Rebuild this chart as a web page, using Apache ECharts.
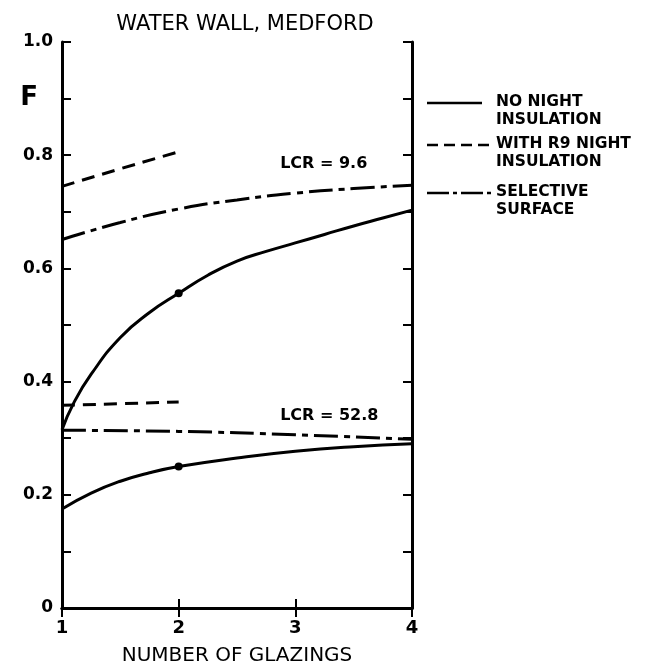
<!DOCTYPE html>
<html>
<head>
<meta charset="utf-8">
<script src="https://cdn.jsdelivr.net/npm/echarts@6/dist/echarts.min.js"></script>
<style>
  html, body { margin: 0; padding: 0; background: #fff; }
  #chart { width: 650px; height: 671px; }
</style>
</head>
<body>
<div id="chart"></div>
<script>
// Solar fraction F versus number of glazings, water wall in Medford
const glazingTicks = [1, 2, 3, 4];
const yTickLabels = { '0': '0', '0.2': '0.2', '0.4': '0.4', '0.6': '0.6', '0.8': '0.8', '0.9': 'F', '1': '1.0' };

// LCR = 9.6
const noNight96 = [[1, 0.315], [1.1, 0.362], [1.25, 0.413], [1.5, 0.478], [1.75, 0.522], [2, 0.556], [2.25, 0.588], [2.5, 0.613], [2.75, 0.63], [3, 0.645], [3.25, 0.66], [3.5, 0.675], [3.75, 0.689], [4, 0.703]];
const withR9_96 = [[1, 0.745], [1.5, 0.776], [2, 0.806]];
const selective96 = [[1, 0.651], [1.5, 0.681], [2, 0.705], [2.5, 0.721], [3, 0.733], [3.5, 0.741], [4, 0.747]];

// LCR = 52.8
const noNight528 = [[1, 0.175], [1.25, 0.203], [1.5, 0.224], [1.75, 0.239], [2, 0.25], [2.5, 0.265], [3, 0.277], [3.5, 0.285], [4, 0.29]];
const withR9_528 = [[1, 0.358], [2, 0.364]];
const selective528 = [[1, 0.314], [2, 0.312], [3, 0.306], [4, 0.298]];

const markedPoints = [[2, 0.556], [2, 0.25]];
const lcrLabels = [
  { text: 'LCR = 9.6', x: 2.87, y: 0.785 },
  { text: 'LCR = 52.8', x: 2.87, y: 0.340 }
];

const legendItems = [
  { lines: ['NO NIGHT', 'INSULATION'], dash: null, len: 55 },
  { lines: ['WITH R9 NIGHT', 'INSULATION'], dash: [11, 6], len: 63 },
  { lines: ['SELECTIVE', 'SURFACE'], dash: [22, 4, 4, 4], len: 66 }
];

const FONT = '"DejaVu Sans", "Liberation Sans", sans-serif';
const INK = '#000';
const DASH_R9 = [13, 8];
const DASH_SEL = [24, 6, 6, 6];

const chart = echarts.init(document.getElementById('chart'), null, { renderer: 'canvas' });

function curve(data, dash) {
  return {
    type: 'line',
    data: data,
    smooth: 0.5,
    showSymbol: false,
    symbol: 'none',
    silent: true,
    lineStyle: { color: INK, width: 3, type: dash || 'solid', cap: 'butt' },
    z: 3
  };
}

// Legend block drawn beside the plot
const legendGraphics = [];
const legendTop = [103, 145, 193];
legendItems.forEach((item, i) => {
  const y = legendTop[i];
  legendGraphics.push({
    type: 'line',
    shape: { x1: 427, y1: y, x2: 427 + item.len, y2: y },
    style: { stroke: INK, lineWidth: 2.6, lineDash: item.dash || null }
  });
  legendGraphics.push({
    type: 'text',
    x: 496,
    y: y - 10,
    style: {
      text: item.lines.join('\n'),
      font: 'bold 15.5px ' + FONT,
      fill: INK,
      lineHeight: 18,
      textVerticalAlign: 'top'
    }
  });
});

const option = {
  backgroundColor: '#fff',
  animation: false,
  title: {
    text: 'WATER WALL, MEDFORD',
    left: 240,
    textAlign: 'center',
    top: 9,
    textStyle: { fontFamily: FONT, fontSize: 21, fontWeight: 'normal', color: INK }
  },
  grid: { left: 62, right: 238, top: 42, bottom: 57 },
  xAxis: [
    {
      type: 'value', min: 1, max: 4, interval: 1, position: 'bottom',
      name: 'NUMBER OF GLAZINGS', nameLocation: 'middle', nameGap: 38,
      nameTextStyle: { fontFamily: FONT, fontSize: 20, color: INK },
      axisLine: { show: true, lineStyle: { color: INK, width: 3 } },
      axisTick: { show: true, inside: true, length: 9, lineStyle: { color: INK, width: 2 } },
      axisLabel: {
        margin: 11, fontFamily: FONT, fontSize: 18, fontWeight: 'bold', color: INK,
        formatter: v => glazingTicks.includes(v) ? String(v) : ''
      },
      splitLine: { show: false }
    },
    {
      type: 'value', min: 1, max: 4, interval: 1, position: 'top',
      axisLine: { show: true, lineStyle: { color: INK, width: 3 } },
      axisTick: { show: true, inside: true, length: 9, lineStyle: { color: INK, width: 2 } },
      axisLabel: { show: false },
      splitLine: { show: false }
    }
  ],
  yAxis: [
    {
      type: 'value', min: 0, max: 1, interval: 0.1, position: 'left',
      axisLine: { show: true, lineStyle: { color: INK, width: 3 } },
      axisTick: { show: true, inside: true, length: 9, lineStyle: { color: INK, width: 2 } },
      axisLabel: {
        margin: 9, fontFamily: FONT, fontSize: 17, fontWeight: 'bold', color: INK,
        formatter: v => {
          const key = String(Math.round(v * 10) / 10);
          const t = yTickLabels[key];
          if (t === undefined) return '';
          return t === 'F' ? '{f|F}' : t;
        },
        rich: { f: { fontFamily: FONT, fontSize: 26, fontWeight: 'bold', color: INK, padding: [0, 15, 0, 0] } }
      },
      splitLine: { show: false }
    },
    {
      type: 'value', min: 0, max: 1, interval: 0.1, position: 'right',
      axisLine: { show: true, lineStyle: { color: INK, width: 3 } },
      axisTick: { show: true, inside: true, length: 9, lineStyle: { color: INK, width: 2 } },
      axisLabel: { show: false },
      splitLine: { show: false }
    }
  ],
  series: [
    curve(noNight96, null),
    curve(withR9_96, DASH_R9),
    curve(selective96, DASH_SEL),
    curve(noNight528, null),
    curve(withR9_528, DASH_R9),
    curve(selective528, DASH_SEL),
    {
      type: 'scatter',
      data: markedPoints,
      symbol: 'circle',
      symbolSize: 8,
      itemStyle: { color: INK, opacity: 1 },
      silent: true,
      z: 4
    },
    {
      type: 'scatter',
      data: lcrLabels.map(d => ({ value: [d.x, d.y], name: d.text })),
      symbolSize: 0,
      silent: true,
      itemStyle: { opacity: 1 },
      label: {
        show: true,
        position: 'right',
        distance: 0,
        formatter: p => p.name,
        fontFamily: FONT, fontSize: 16, fontWeight: 'bold', color: INK, opacity: 1
      },
      z: 5
    }
  ],
  graphic: legendGraphics
};

chart.setOption(option);
</script>
</body>
</html>
